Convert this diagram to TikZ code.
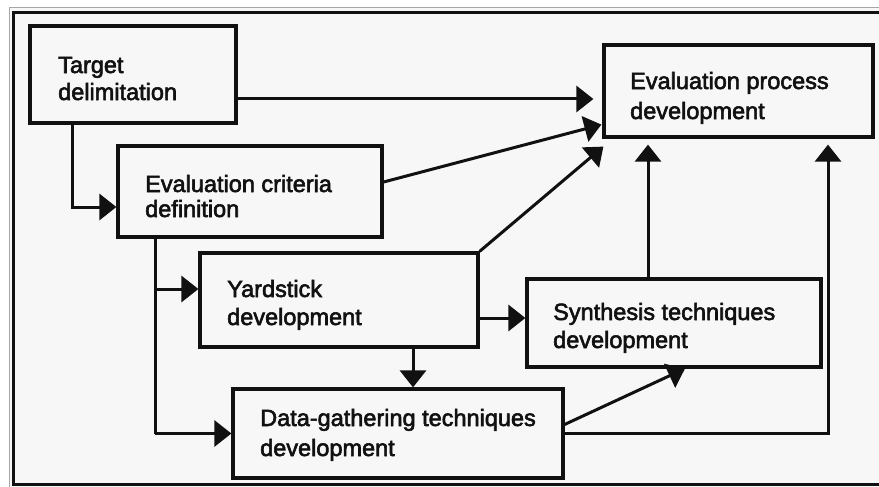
\documentclass[tikz,border=0pt]{standalone}
\usepackage{fontspec}
\setmainfont{Liberation Sans}[BoldFont={Liberation Sans},BoldFeatures={FakeBold=2.5}]
\usetikzlibrary{arrows.meta}
\definecolor{paper}{HTML}{F7F7F7}
\definecolor{ink}{HTML}{111111}
\begin{document}
\begin{tikzpicture}[x=1pt,y=-1pt,
  stagebox/.style={draw=ink,line width=3.2pt,rectangle,inner sep=0pt},
  stagetext/.style={anchor=base west,align=left,inner sep=0pt,
    font=\fontsize{23.5}{28}\selectfont\bfseries,text=ink},
  arr/.style={draw=ink,line width=3pt,-{Triangle[length=17pt,width=26pt]}},
  link/.style={draw=ink,line width=3pt}]
% page and outer frame
\useasboundingbox (0,0) rectangle (879,487);
\fill[white] (0,0) rectangle (879,487);
\fill[paper] (9,7) rectangle (879,487);
\draw[gray!70,line width=0.8pt] (879,7) -- (9,7) -- (9,487);
\draw[ink,line width=3pt] (879,13) -- (13,13) -- (13,484) -- (879,484);

% stages
\node[stagebox,minimum width=206pt,minimum height=97pt] (tgt)  at (133,74.5) {};
\node[stagebox,minimum width=264pt,minimum height=91pt] (crit) at (250,191.5) {};
\node[stagebox,minimum width=278pt,minimum height=94pt] (yard) at (339,300) {};
\node[stagebox,minimum width=330pt,minimum height=89pt] (data) at (398,433.5) {};
\node[stagebox,minimum width=294pt,minimum height=88pt] (synt) at (674,323) {};
\node[stagebox,minimum width=269pt,minimum height=92pt] (eval) at (738.5,91) {};

% stage names (anchored on the baseline of their last line)
\node[stagetext] (tgt-t)  at (58,100)  {Target\\[-1pt]delimitation};
\node[stagetext] (crit-t) at (145,217) {Evaluation criteria\\[-3pt]definition};
\node[stagetext] (yard-t) at (227,325) {Yardstick\\development};
\node[stagetext] (data-t) at (260,456) {Data-gathering techniques\\[2pt]development};
\node[stagetext] (synt-t) at (553,348) {Synthesis techniques\\development};
\node[stagetext] (eval-t) at (630,119) {Evaluation process\\[2pt]development};

% helper points on the connectors
\coordinate (tA) at (0,99);
\coordinate (cA) at (0,182);
\coordinate (ys) at ([yshift=-18pt]yard.east);
\coordinate (yin) at ([yshift=11pt]yard.west);
\coordinate (trunk) at ([xshift=-95pt]crit.south);

% connectors
\draw[arr] (tgt.east |- tA) -- ([xshift=-9pt]eval.west |- tA);
\draw[arr] (crit.east |- cA) -- ([xshift=-1pt,yshift=14pt]eval.south west);
\draw[arr] (yard.north east) -- ([xshift=1pt,yshift=-8pt]eval.south west);
\draw[arr] ([xshift=-61pt]tgt.south) |- ([yshift=-15.5pt]crit.west);
\draw[link] (trunk) -- (trunk |- data.west);
\draw[arr] (trunk |- data.west) -- (data.west);
\draw[arr] (trunk |- yin) -- (yin);
\draw[arr] ([xshift=74pt]yard.south) -- ([xshift=74pt]yard.south |- data.north);
\draw[arr] (ys) -- (synt.west |- ys);
\draw[arr,shorten >=6pt] ([xshift=-26pt]synt.north) -- ([xshift=-26pt]synt.north |- eval.south);
\draw[arr,shorten >=6pt] (data.east) -| ([xshift=89.5pt]eval.south);
\draw[arr] ([yshift=9pt]data.east) -- ([xshift=11pt]synt.south);
\end{tikzpicture}
\end{document}
